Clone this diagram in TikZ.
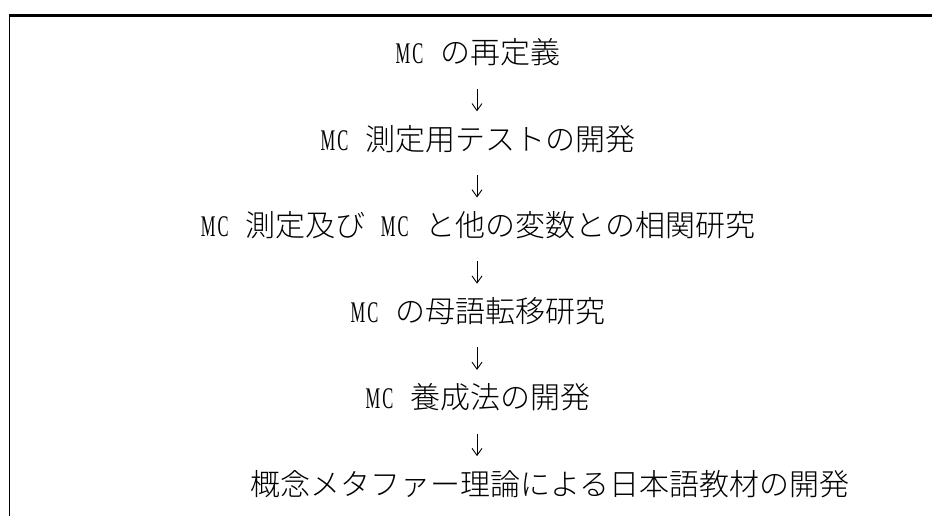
\documentclass[tikz,border=0pt]{standalone}
\usepackage{fontspec}
\usetikzlibrary{arrows.meta}
\newfontfamily\jpfont{Noto Sans CJK JP}[UprightFont=* Light]
\newfontfamily\mcfont{Liberation Serif}[FakeStretch=0.55]
\newcommand{\hs}{\hspace{15pt}}
\newcommand{\MCx}{{\mcfont\fontsize{30}{36}\selectfont\makebox[15pt]{M}\makebox[15pt]{C}}\hs}
\begin{document}
\begin{tikzpicture}[x=1pt,y=-1pt,
  txt/.style={inner sep=0pt, text height=26pt, text depth=4pt,
    font=\jpfont\fontsize{30}{36}\selectfont},
  flow/.style={-{Straight Barb[length=7pt,width=10pt]}, line width=0.9pt,
    shorten <=20.5pt, shorten >=12.7pt},
  rule/.style={line width=2.2pt},
  side/.style={line width=1.7pt}]
\useasboundingbox (0,0) rectangle (932,516);
\coordinate (tl) at (9.5,15.5);
\coordinate (tr) at (932,15.5);
\coordinate (bl) at (9.5,516);
\draw[rule] ([xshift=-0.85pt]tl) -- (tr);
\draw[side] (tl) -- (bl);
\coordinate (ax) at (477,0);
\node[txt] (n1) at (478,53)    {\MCx の再定義};
\node[txt] (n2) at (478,139.2) {\MCx 測定用テストの開発};
\node[txt] (n3) at (478,225.4) {\MCx 測定及び\hs\MCx と他の変数との相関研究};
\node[txt] (n4) at (478,311.6) {\MCx の母語転移研究};
\node[txt] (n5) at (478,397.8) {\MCx 養成法の開発};
\node[txt] (n6) at (550,484)   {概念メタファー理論による日本語教材の開発};
\draw[flow] (n1.south -| ax) -- (n2.north -| ax);
\draw[flow] (n2.south -| ax) -- (n3.north -| ax);
\draw[flow] (n3.south -| ax) -- (n4.north -| ax);
\draw[flow] (n4.south -| ax) -- (n5.north -| ax);
\draw[flow] (n5.south -| ax) -- (n6.north -| ax);
\end{tikzpicture}
\end{document}
